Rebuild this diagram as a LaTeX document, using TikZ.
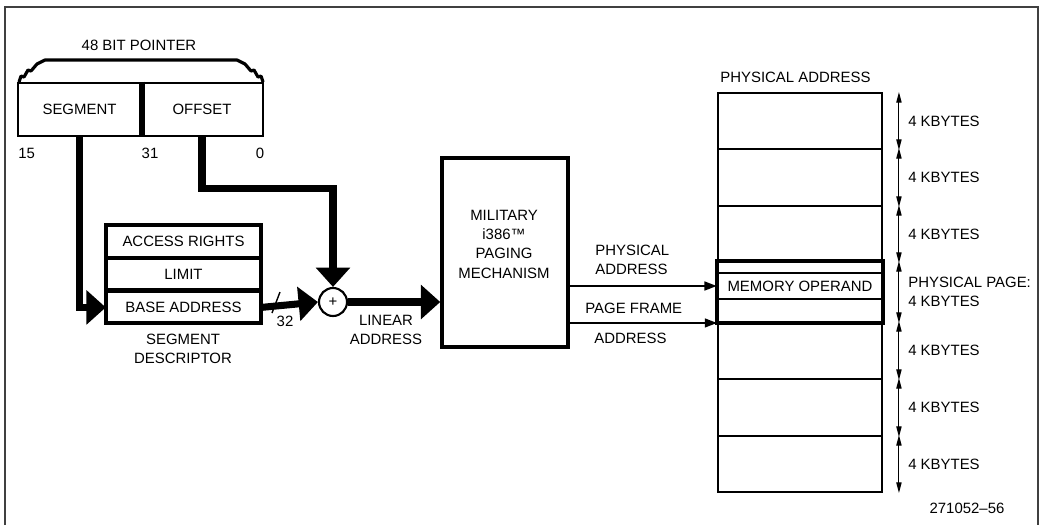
\documentclass[tikz,border=0pt]{standalone}
\usepackage{fontspec}
\setmainfont{Liberation Sans}
\usetikzlibrary{arrows.meta,positioning}

\begin{document}
\begin{tikzpicture}[x=0.02cm,y=-0.02cm,
    every node/.style={font=\fontsize{8.5}{11}\selectfont,inner sep=0pt},
    box/.style={draw,line width=1.6pt,minimum height=1.06cm},
    row/.style={draw,line width=1.4pt,minimum width=3.06cm,minimum height=0.61cm},
    page/.style={draw,line width=1.1pt,minimum width=3.28cm},
    bus/.style={line width=4pt,-{Triangle[length=11pt,width=19pt]}},
    thinarr/.style={line width=1.2pt,-{Triangle[length=7pt,width=5pt]}},
    dim/.style={line width=0.6pt,{Triangle[length=6pt,width=3pt]}-{Triangle[length=6pt,width=3pt]}}]

  \useasboundingbox (0,0) rectangle (1041,525);
  % frame
  \draw[line width=0.8pt,black!75] (5,525) -- (5,7) -- (1038,7) -- (1038,525);

  % 48 bit pointer
  \node (ptr) at (139,45) {48 BIT POINTER};
  \node[box,minimum width=2.46cm] (seg) at (79.5,109.5) {SEGMENT\hspace{0.3cm}};
  \node[box,minimum width=2.44cm] (off) at (202,109.5) {OFFSET\hspace{0.3cm}};
  \draw[line width=3.4pt] (seg.north east) -- (seg.south east);
  \draw[line width=1.8pt,line join=round]
    (19,82) -- (21,76) -- (24,77) -- (28,70) -- (31,71) -- (37,64) -- (45,60)
    -- (237,60) -- (245,64) -- (251,71) -- (254,70) -- (258,77) -- (261,76) -- (263,82);
  \node[anchor=west] (b15) at (18,153) {15};
  \node (b31) at (150,153) {31};
  \node (b0) at (260,153) {0};

  % segment descriptor
  \node[row] (acc) at (183.5,241.5) {ACCESS RIGHTS};
  \node[row,below=0pt of acc] (lim) {LIMIT};
  \node[row,below=0pt of lim] (base) {BASE ADDRESS};
  \draw[line width=1.8pt] (acc.north west) rectangle (base.south east);
  \node[align=center] (desc) at (183,349) {SEGMENT\\DESCRIPTOR};

  % adder
  \node[draw,circle,line width=1.2pt,minimum size=0.56cm] (add) at (333,302) {+};
  \draw[line width=0.8pt] (272,313) -- (280,292);
  \node (w32) at (285,321) {32};
  \node[align=center] (lin) at (386,330) {LINEAR\\ADDRESS};

  % paging unit
  \node[draw,line width=2pt,minimum width=2.52cm,minimum height=3.78cm] (paging) at (505,252.5) {};
  \node[align=center] (pgtxt) at (504,244) {MILITARY\\i386™\\PAGING\\MECHANISM};

  % physical memory
  \node[anchor=west] (mtitle) at (720,77) {PHYSICAL ADDRESS};
  \foreach \n/\t/\b in {1/93/149,2/149/206,3/206/262,4/262/322,5/322/379,6/379/436,7/436/492}
    \node[page,minimum height={(\b-\t)*0.02cm}] (pg\n) at (800,{(\t+\b)/2}) {};
  \draw[line width=2.2pt] (pg4.north west) rectangle (pg4.south east);
  \node[draw,line width=1.4pt,minimum width=3.28cm,minimum height=0.52cm] (memop) at (800,286) {MEMORY OPERAND};
  \foreach \n in {1,...,7}
    \draw[dim] ([xshift=0.32cm]pg\n.north east) -- ([xshift=0.32cm]pg\n.south east);
  \foreach \n in {1,2,3,5,6,7}
    \node[anchor=west] (kb\n) at ([xshift=0.5cm]pg\n.east) {4 KBYTES};
  \node[anchor=west,align=left] (kb4) at ([xshift=0.5cm]pg4.east) {PHYSICAL PAGE:\\4 KBYTES};

  % buses
  \draw[bus] (seg.south) -- (seg.south |- base.west) -- (base.west);
  \draw[bus] (off.south) -- ++(0,51) -| (add.north);
  \draw[bus] (base.east) -- (add.west);
  \draw[bus] (add.east) -- (add.east -| paging.west);

  % addresses out of the paging unit
  \draw[thinarr] (paging.east |- memop.west) -- (memop.west);
  \draw[thinarr] (paging.east |- pg4.south west) -- (pg4.south west);
  \node[anchor=west,align=left] (phys) at (595,260) {PHYSICAL\\ADDRESS};
  \node[anchor=west] (pf) at (585,308) {PAGE FRAME};
  \node[anchor=west] (pfa) at (594,338) {ADDRESS};

  \node (fig) at (967,508) {271052--56};
\end{tikzpicture}
\end{document}
